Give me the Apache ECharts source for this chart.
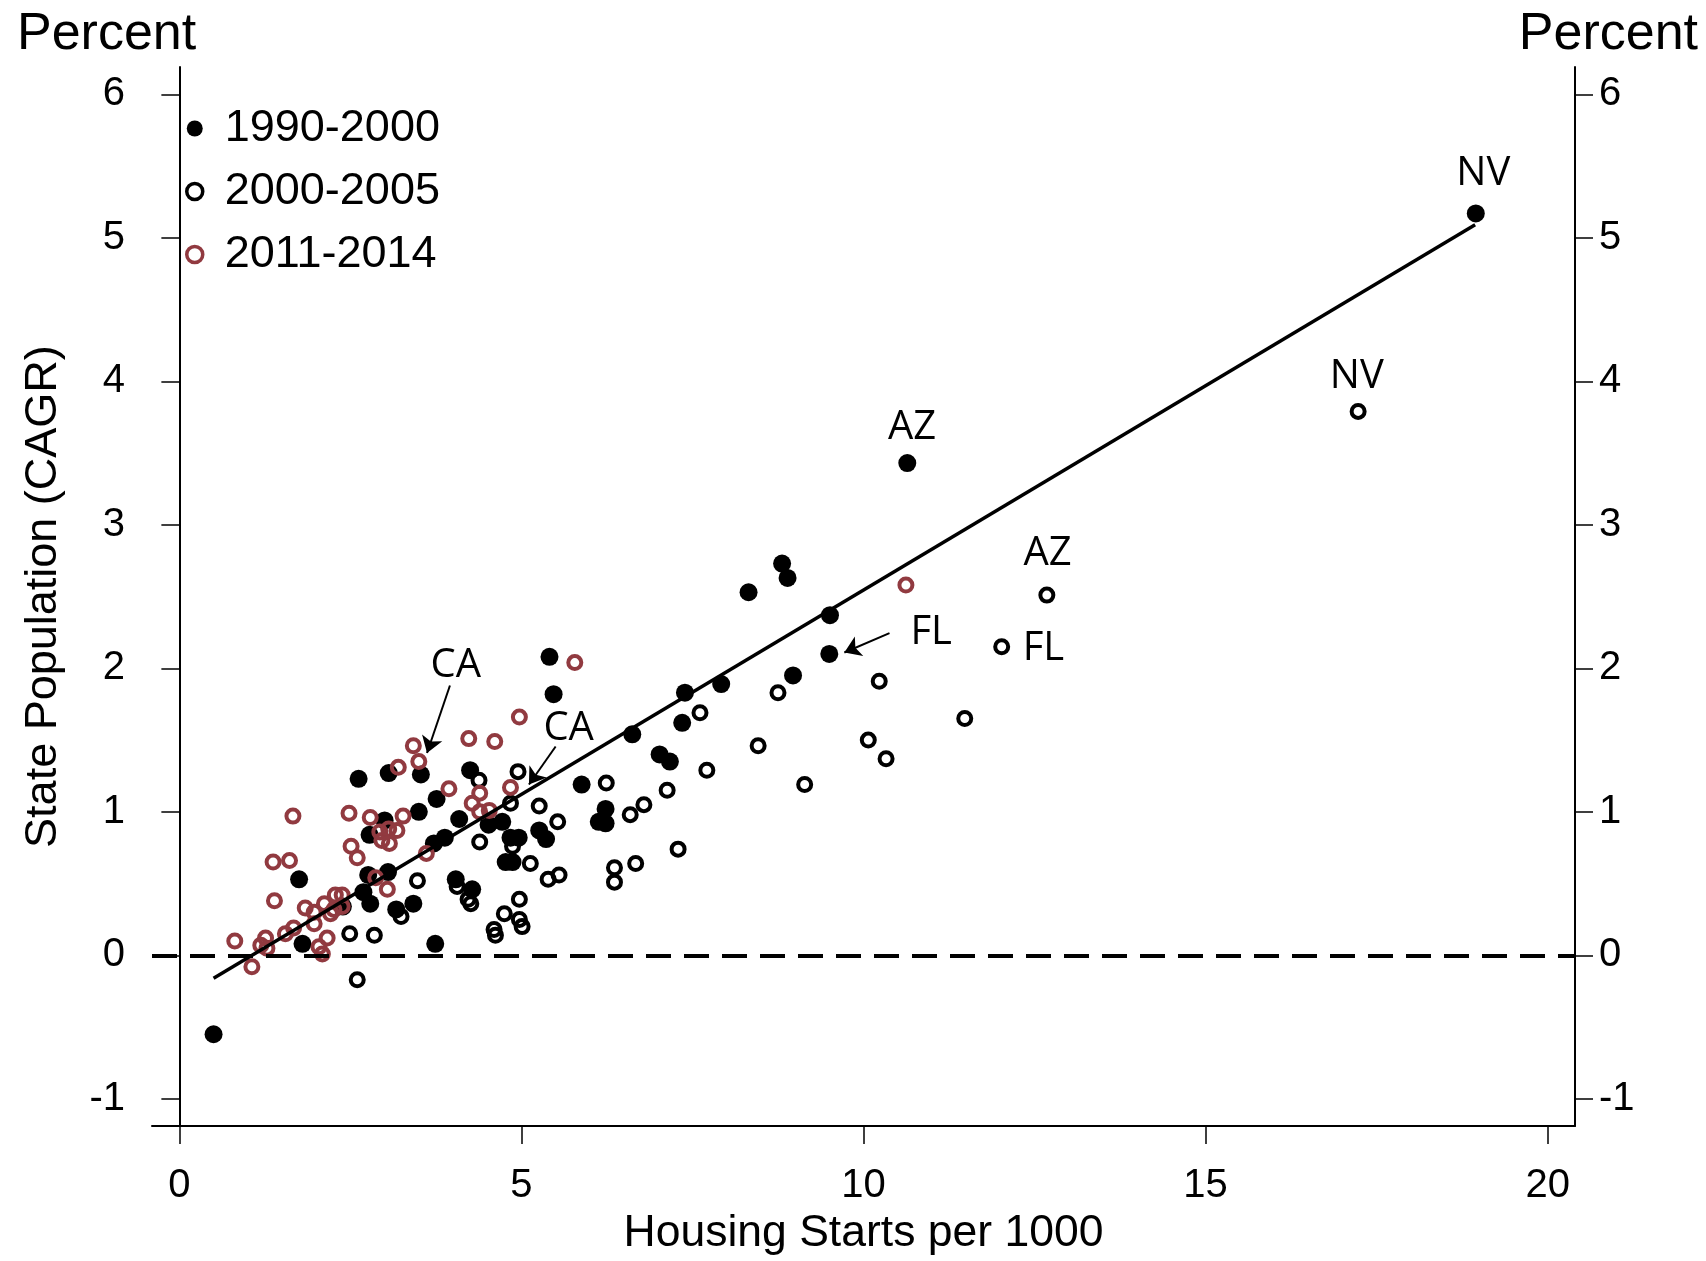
<!DOCTYPE html>
<html>
<head>
<meta charset="utf-8">
<script src="https://cdn.jsdelivr.net/npm/echarts@6/dist/echarts.min.js"></script>
<style>
  html, body { margin: 0; padding: 0; background: #fff; overflow: hidden; }
  #main { width: 1706px; height: 1261px; }
</style>
</head>
<body>
<div id="main"></div>
<script>
// values: [housing starts per 1000, population CAGR %]
var periods = ['1990-2000', '2000-2005', '2011-2014'];

var data1990 = [
  [0.50,-0.55],[1.75,0.53],[1.80,0.08],[2.39,0.34],[2.62,1.23],[2.69,0.44],
  [2.76,0.56],[2.79,0.36],[2.78,0.84],[3.00,0.94],[3.05,0.58],[3.06,1.27],
  [3.17,0.32],[3.42,0.36],[3.50,1.00],[3.53,1.26],[3.72,0.78],[3.76,1.09],
  [3.74,0.08],[3.88,0.82],[4.04,0.53],[4.09,0.95],[4.25,1.29],[4.28,0.46],
  [4.52,0.91],[4.72,0.93],[4.77,0.65],[4.87,0.65],[4.84,0.82],[4.96,0.82],
  [5.26,0.87],[5.36,0.81],[5.41,2.08],[5.47,1.82],[5.88,1.19],[6.13,0.93],
  [6.23,0.92],[6.23,1.02],[6.62,1.54],[7.02,1.40],[7.17,1.35],[7.35,1.62],
  [7.39,1.83],[7.92,1.89],[8.32,2.53],[8.81,2.73],[8.89,2.63],[8.97,1.95],
  [9.50,2.10],[9.51,2.37],[10.64,3.43],[18.95,5.17]
];

var data2000 = [
  [2.49,0.15],[2.60,-0.17],[2.85,0.14],[3.24,0.27],[3.48,0.52],[4.06,0.48],
  [4.22,0.39],[4.26,0.36],[4.38,1.22],[4.39,0.79],[4.60,0.18],[4.62,0.14],
  [4.75,0.29],[4.84,1.06],[4.87,0.76],[4.95,1.28],[4.97,0.39],[4.97,0.25],
  [5.01,0.20],[5.13,0.64],[5.26,1.04],[5.39,0.53],[5.53,0.93],[5.55,0.56],
  [6.24,1.20],[6.36,0.61],[6.36,0.51],[6.59,0.98],[6.67,0.64],[6.79,1.05],
  [7.13,1.15],[7.29,0.74],[7.61,1.69],[7.71,1.29],[8.46,1.46],[8.75,1.83],
  [9.14,1.19],[10.07,1.50],[10.23,1.91],[10.33,1.37],[11.48,1.65],[12.02,2.15],
  [12.68,2.51],[17.23,3.79]
];

var data2011 = [
  [0.81,0.10],[1.06,-0.08],[1.19,0.07],[1.26,0.12],[1.28,0.05],[1.39,0.38],
  [1.37,0.65],[1.55,0.15],[1.61,0.66],[1.66,0.97],[1.67,0.19],[1.84,0.33],
  [1.97,0.30],[1.97,0.22],[2.04,0.06],[2.09,0.01],[2.16,0.12],[2.12,0.36],
  [2.21,0.29],[2.26,0.32],[2.28,0.42],[2.38,0.42],[2.38,0.34],[2.48,0.99],
  [2.51,0.76],[2.60,0.68],[2.79,0.96],[2.87,0.54],[2.93,0.86],[2.96,0.80],
  [3.04,0.46],[3.06,0.88],[3.07,0.78],[3.18,0.87],[3.20,1.31],[3.27,0.97],
  [3.42,1.46],[3.50,1.35],[3.61,0.71],[3.94,1.16],[4.23,1.51],[4.28,1.06],
  [4.39,1.13],[4.39,1.00],[4.53,1.01],[4.61,1.49],[4.84,1.17],[4.97,1.66],
  [5.78,2.04],[10.62,2.58]
];

// fitted line end points
var fitLine = [[0.50,-0.16],[18.94,5.09]];

// state labels and arrows
var noteNames = ['NV','NV','AZ','AZ','FL','FL','CA','CA'];
var notePos = [[19.06,5.45],[17.21,4.03],[10.71,3.68],[12.69,2.80],[10.99,2.25],[12.63,2.14],[4.04,2.02],[5.69,1.58]];
var arrows = [
  [[3.955,1.88],[3.62,1.41]],
  [[5.50,1.455],[5.11,1.19]],
  [[10.38,2.245],[9.72,2.11]]
];

var xTicks = [0,5,10,15,20];
var yTicks = [-1,0,1,2,3,4,5,6];

var red = '#913a40';
var txt = 'Liberation Sans, Arial, sans-serif';

var myChart = echarts.init(document.getElementById('main'));

function yAx(pos, margin, align) {
  return {
    type: 'value', position: pos, min: -1.19, max: 6.19,
    axisLine: { show: true, lineStyle: { color: '#000', width: 2 } },
    axisTick: { show: true, length: 18, customValues: yTicks, lineStyle: { color: '#000', width: 1.5 } },
    axisLabel: { customValues: yTicks, margin: margin, fontSize: 40, color: '#000', fontFamily: txt, align: align },
    splitLine: { show: false }
  };
}

var left = yAx('left', 27, 'right');
left.name = 'State Population (CAGR)';
left.nameLocation = 'middle';
left.nameGap = 86;
left.nameTextStyle = { fontSize: 45, color: '#000', fontFamily: txt };

var option = {
  backgroundColor: '#fff',
  animation: false,
  title: [
    { text: 'Percent', left: 12, top: 4, textStyle: { fontSize: 52, fontWeight: 'normal', color: '#000', fontFamily: txt } },
    { text: 'Percent', right: 3, top: 4, textStyle: { fontSize: 52, fontWeight: 'normal', color: '#000', fontFamily: txt } }
  ],
  legend: {
    orient: 'vertical', left: 180, top: 101, itemGap: 18,
    itemWidth: 16, itemHeight: 16,
    textStyle: { fontSize: 45, color: '#000', fontFamily: txt, padding: [0, 0, 0, 17] },
    data: [
      { name: periods[0], icon: 'circle', itemStyle: { color: '#000', borderWidth: 0 } },
      { name: periods[1], icon: 'circle', itemStyle: { color: '#fff', borderColor: '#000', borderWidth: 3.5 } },
      { name: periods[2], icon: 'circle', itemStyle: { color: '#fff', borderColor: red, borderWidth: 3.5 } }
    ]
  },
  grid: { left: 152, right: 131, top: 67, bottom: 122 },
  xAxis: {
    type: 'value', min: -0.4, max: 20.4,
    name: 'Housing Starts per 1000', nameLocation: 'middle', nameGap: 78,
    nameTextStyle: { fontSize: 44.5, color: '#000', fontFamily: txt },
    axisLine: { show: true, onZero: false, lineStyle: { color: '#000', width: 2 } },
    axisTick: { show: true, length: 18, customValues: xTicks, lineStyle: { color: '#000', width: 1.5 } },
    axisLabel: { customValues: xTicks, margin: 40, fontSize: 40, color: '#000', fontFamily: txt },
    splitLine: { show: false }
  },
  yAxis: [left, yAx('right', 24, 'left')],
  series: [
    {
      name: periods[0], type: 'scatter', data: data1990, symbolSize: 18,
      itemStyle: { color: '#000', opacity: 1 }, silent: true
    },
    {
      name: periods[1], type: 'scatter', data: data2000, symbolSize: 13,
      itemStyle: { color: 'rgba(0,0,0,0)', borderColor: '#000', borderWidth: 4, opacity: 1 }, silent: true
    },
    {
      name: periods[2], type: 'scatter', data: data2011, symbolSize: 13,
      itemStyle: { color: 'rgba(0,0,0,0)', borderColor: red, borderWidth: 4, opacity: 1 }, silent: true
    },
    {
      name: 'fit', type: 'line', data: fitLine, symbol: 'none', silent: true,
      lineStyle: { color: '#000', width: 3.5 },
      markLine: {
        silent: true, symbol: 'none', label: { show: false },
        lineStyle: { color: '#000', width: 4, type: [25, 13] },
        data: [{ yAxis: 0 }]
      }
    },
    {
      name: 'notes', type: 'scatter', symbolSize: 1, silent: true,
      itemStyle: { color: 'rgba(0,0,0,0)', opacity: 1 },
      data: noteNames.map(function (n, i) { return { name: n, value: notePos[i] }; }),
      label: {
        show: true, position: 'inside', formatter: '{b}', opacity: 1,
        fontSize: 40, color: '#000', fontFamily: 'Open Sans, sans-serif'
      },
      markLine: {
        silent: true, symbol: ['none', 'arrow'], symbolSize: 16, label: { show: false },
        lineStyle: { color: '#000', width: 2, type: 'solid', opacity: 1 },
        data: arrows.map(function (a) { return [{ coord: a[0] }, { coord: a[1] }]; })
      }
    }
  ]
};

myChart.setOption(option);
</script>
</body>
</html>
